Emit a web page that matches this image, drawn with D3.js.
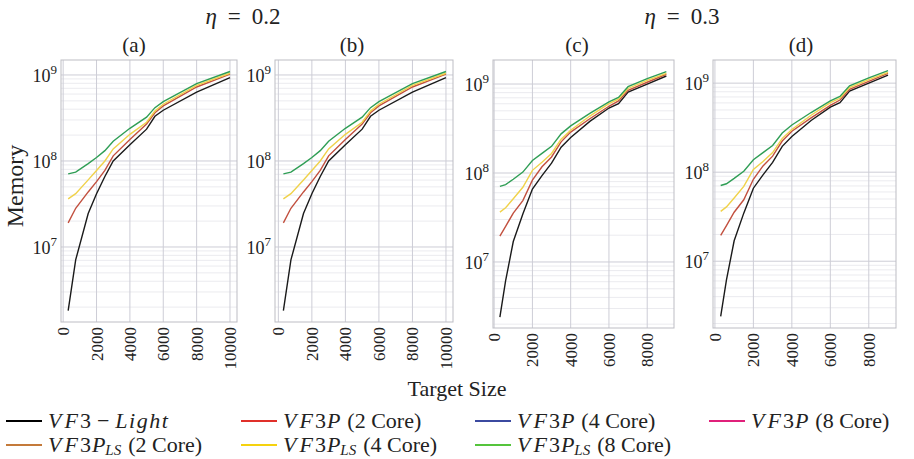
<!DOCTYPE html>
<html lang="en">
<head>
<meta charset="UTF-8">
<title>Memory vs target size</title>
<script src="https://d3js.org/d3.v7.min.js"></script>
<style>
  body { margin: 0; background: #fff; }
  text { font-family: "Liberation Serif", "DejaVu Serif", serif; fill: #222; }
</style>
</head>
<body>
<script>
// target sizes for eta = 0.2 and eta = 0.3
var sizes02 = [300, 750, 1500, 2000, 2500, 3000, 4000, 5000, 5500, 6000, 8000, 10000];
var sizes03 = [300, 600, 1000, 1500, 2000, 2500, 3000, 3500, 4000, 5000, 6000, 6500, 7000, 8000, 9000];

// log10(memory), eta = 0.2 (panels a, b look the same)
var light02 = [6.26, 6.85, 7.39, 7.62, 7.82, 8.0, 8.19, 8.37, 8.52, 8.59, 8.80, 8.97];
var p2_02   = [7.28, 7.45, 7.64, 7.76, 7.89, 8.06, 8.25, 8.43, 8.56, 8.64, 8.86, 9.01];
var p4_02   = [7.56, 7.62, 7.78, 7.89, 8.0, 8.14, 8.31, 8.45, 8.58, 8.66, 8.88, 9.02];
var p8_02   = [7.85, 7.87, 7.97, 8.04, 8.12, 8.23, 8.38, 8.51, 8.62, 8.69, 8.90, 9.04];

// eta = 0.3 (panels c, d)
var light03 = [6.38, 6.79, 7.23, 7.54, 7.82, 7.97, 8.11, 8.29, 8.40, 8.58, 8.73, 8.78, 8.91, 9.0, 9.09];
var p2_03   = [7.29, 7.40, 7.55, 7.69, 7.92, 8.07, 8.18, 8.35, 8.46, 8.61, 8.75, 8.81, 8.93, 9.02, 9.11];
var p4_03   = [7.56, 7.61, 7.71, 7.84, 8.03, 8.12, 8.22, 8.38, 8.48, 8.64, 8.78, 8.83, 8.95, 9.04, 9.12];
var p8_03   = [7.85, 7.87, 7.93, 8.01, 8.14, 8.22, 8.30, 8.44, 8.53, 8.67, 8.80, 8.85, 8.97, 9.06, 9.14];

var plotColors = ["#1a1a1a", "#c2503f", "#f0d24a", "#2f9e55"];

var panels = [
    {label: "(a)", tx: 134, sizes: sizes02, series: [light02, p2_02, p4_02, p8_02], x0: 61, x1: 237, y0: 60, y1: 322, xd: [-130, 10420], yd: [6.128, 9.174], xt: [0, 2000, 4000, 6000, 8000, 10000]},
    {label: "(b)", tx: 352, sizes: sizes02, series: [light02, p2_02, p4_02, p8_02], x0: 275, x1: 453, y0: 60, y1: 322, xd: [-200, 10420], yd: [6.128, 9.174], xt: [0, 2000, 4000, 6000, 8000, 10000]},
    {label: "(c)", tx: 577, sizes: sizes03, series: [light03, p2_03, p4_03, p8_03], x0: 493, x1: 674, y0: 60, y1: 328, xd: [-60, 9400], yd: [6.258, 9.27], xt: [0, 2000, 4000, 6000, 8000]},
    {label: "(d)", tx: 801, sizes: sizes03, series: [light03, p2_03, p4_03, p8_03], x0: 713, x1: 896, y0: 60, y1: 328, xd: [-100, 9415], yd: [6.25, 9.26], xt: [0, 2000, 4000, 6000, 8000]}
];

var legendItems = [
    {name: "light", color: "#000000"},
    {name: "p2", color: "#e0302a"},
    {name: "p4", color: "#3b4aa0"},
    {name: "p8", color: "#e0207a"},
    {name: "ls2", color: "#c47a3a"},
    {name: "ls4", color: "#f5d20e"},
    {name: "ls8", color: "#55c43c"}
];

var svg = d3.select("body").append("svg")
    .attr("width", 914)
    .attr("height", 459);

panels.forEach(function (p) {
    var x = d3.scaleLinear().domain(p.xd).range([p.x0, p.x1]);
    var y = d3.scaleLinear().domain(p.yd).range([p.y1, p.y0]);
    var g = svg.append("g");

    // minor grid (2..9 x 10^k)
    var minor = [];
    for (var k = 6; k <= 9; k++) {
        for (var m = 2; m <= 9; m++) {
            var v = k + Math.log10(m);
            if (v > p.yd[0] && v < p.yd[1]) minor.push(v);
        }
    }
    g.selectAll(".minor").data(minor).enter().append("line")
        .attr("x1", p.x0).attr("x2", p.x1)
        .attr("y1", d => y(d)).attr("y2", d => y(d))
        .attr("stroke", "#ebebef").attr("stroke-width", 1);

    // major grid
    var major = [7, 8, 9];
    g.selectAll(".majory").data(major).enter().append("line")
        .attr("x1", p.x0).attr("x2", p.x1)
        .attr("y1", d => y(d)).attr("y2", d => y(d))
        .attr("stroke", "#cdcdd6").attr("stroke-width", 1);
    g.selectAll(".majorx").data(p.xt).enter().append("line")
        .attr("x1", d => x(d)).attr("x2", d => x(d))
        .attr("y1", p.y0).attr("y2", p.y1)
        .attr("stroke", "#cdcdd6").attr("stroke-width", 1);

    g.append("rect")
        .attr("x", p.x0).attr("y", p.y0)
        .attr("width", p.x1 - p.x0).attr("height", p.y1 - p.y0)
        .attr("fill", "none").attr("stroke", "#bdbdc4").attr("stroke-width", 1);

    // y tick labels 10^k
    major.forEach(function (k) {
        var t = g.append("text")
            .attr("x", p.x0 - 4).attr("y", y(k) + 7)
            .attr("text-anchor", "end")
            .style("font-size", "18px");
        t.append("tspan").text("10");
        t.append("tspan").attr("dy", -8).style("font-size", "13px").text(k);
    });

    // x tick labels, rotated
    g.selectAll(".xt").data(p.xt).enter().append("text")
        .attr("transform", d => "translate(" + (x(d) + 6) + "," + (p.y1 + 5) + ") rotate(-90)")
        .attr("text-anchor", "end")
        .style("font-size", "17px")
        .text(d => d);

    var line = d3.line()
        .x((d, i) => x(p.sizes[i]))
        .y(d => y(d));
    p.series.forEach(function (s, i) {
        g.append("path")
            .attr("d", line(s))
            .attr("fill", "none")
            .attr("stroke", plotColors[i])
            .attr("stroke-width", 1.4);
    });

    svg.append("text")
        .attr("x", p.tx).attr("y", 52)
        .attr("text-anchor", "middle")
        .style("font-size", "21px")
        .text(p.label);
});

function etaTitle(cx, val) {
    var t = svg.append("text")
        .attr("x", cx).attr("y", 24)
        .attr("text-anchor", "middle")
        .style("font-size", "23px");
    t.append("tspan").style("font-style", "italic").text("η");
    t.append("tspan").attr("dx", 11).text("=");
    t.append("tspan").attr("dx", 11).text(val);
}
etaTitle(243, "0.2");
etaTitle(682, "0.3");

svg.append("text")
    .attr("transform", "translate(23,186) rotate(-90)")
    .attr("text-anchor", "middle")
    .style("font-size", "24px")
    .text("Memory");

svg.append("text")
    .attr("x", 457).attr("y", 396)
    .attr("text-anchor", "middle")
    .style("font-size", "22px")
    .text("Target Size");

// legend
var legPos = [[6, 421], [241, 421], [475, 421], [709, 421], [6, 445], [241, 445], [475, 445]];
legendItems.forEach(function (item, i) {
    var lx = legPos[i][0], ly = legPos[i][1];
    svg.append("line")
        .attr("x1", lx).attr("x2", lx + 36)
        .attr("y1", ly).attr("y2", ly)
        .attr("stroke", item.color).attr("stroke-width", 2);
    var t = svg.append("text")
        .attr("x", lx + 42).attr("y", ly + 7)
        .style("font-size", "22px");
    function it(s, dx) {
        return t.append("tspan").attr("dx", dx || 0).style("font-style", "italic").text(s);
    }
    it("V");
    it("F", 3);
    t.append("tspan").attr("dx", 2).text("3");
    if (item.name === "light") {
        t.append("tspan").attr("dx", 6).text("−");
        it("Light", 6).style("letter-spacing", "1.5px");
        return;
    }
    it("P", 1);
    var cores = {p2: 2, p4: 4, p8: 8, ls2: 2, ls4: 4, ls8: 8}[item.name];
    if (item.name.indexOf("ls") === 0) {
        t.append("tspan").attr("dy", 3).style("font-style", "italic").style("font-size", "15px").text("LS");
        t.append("tspan").attr("dy", -3).attr("dx", 7).text("(" + cores + " Core)");
    } else {
        t.append("tspan").attr("dx", 7).text("(" + cores + " Core)");
    }
});
</script>
</body>
</html>
